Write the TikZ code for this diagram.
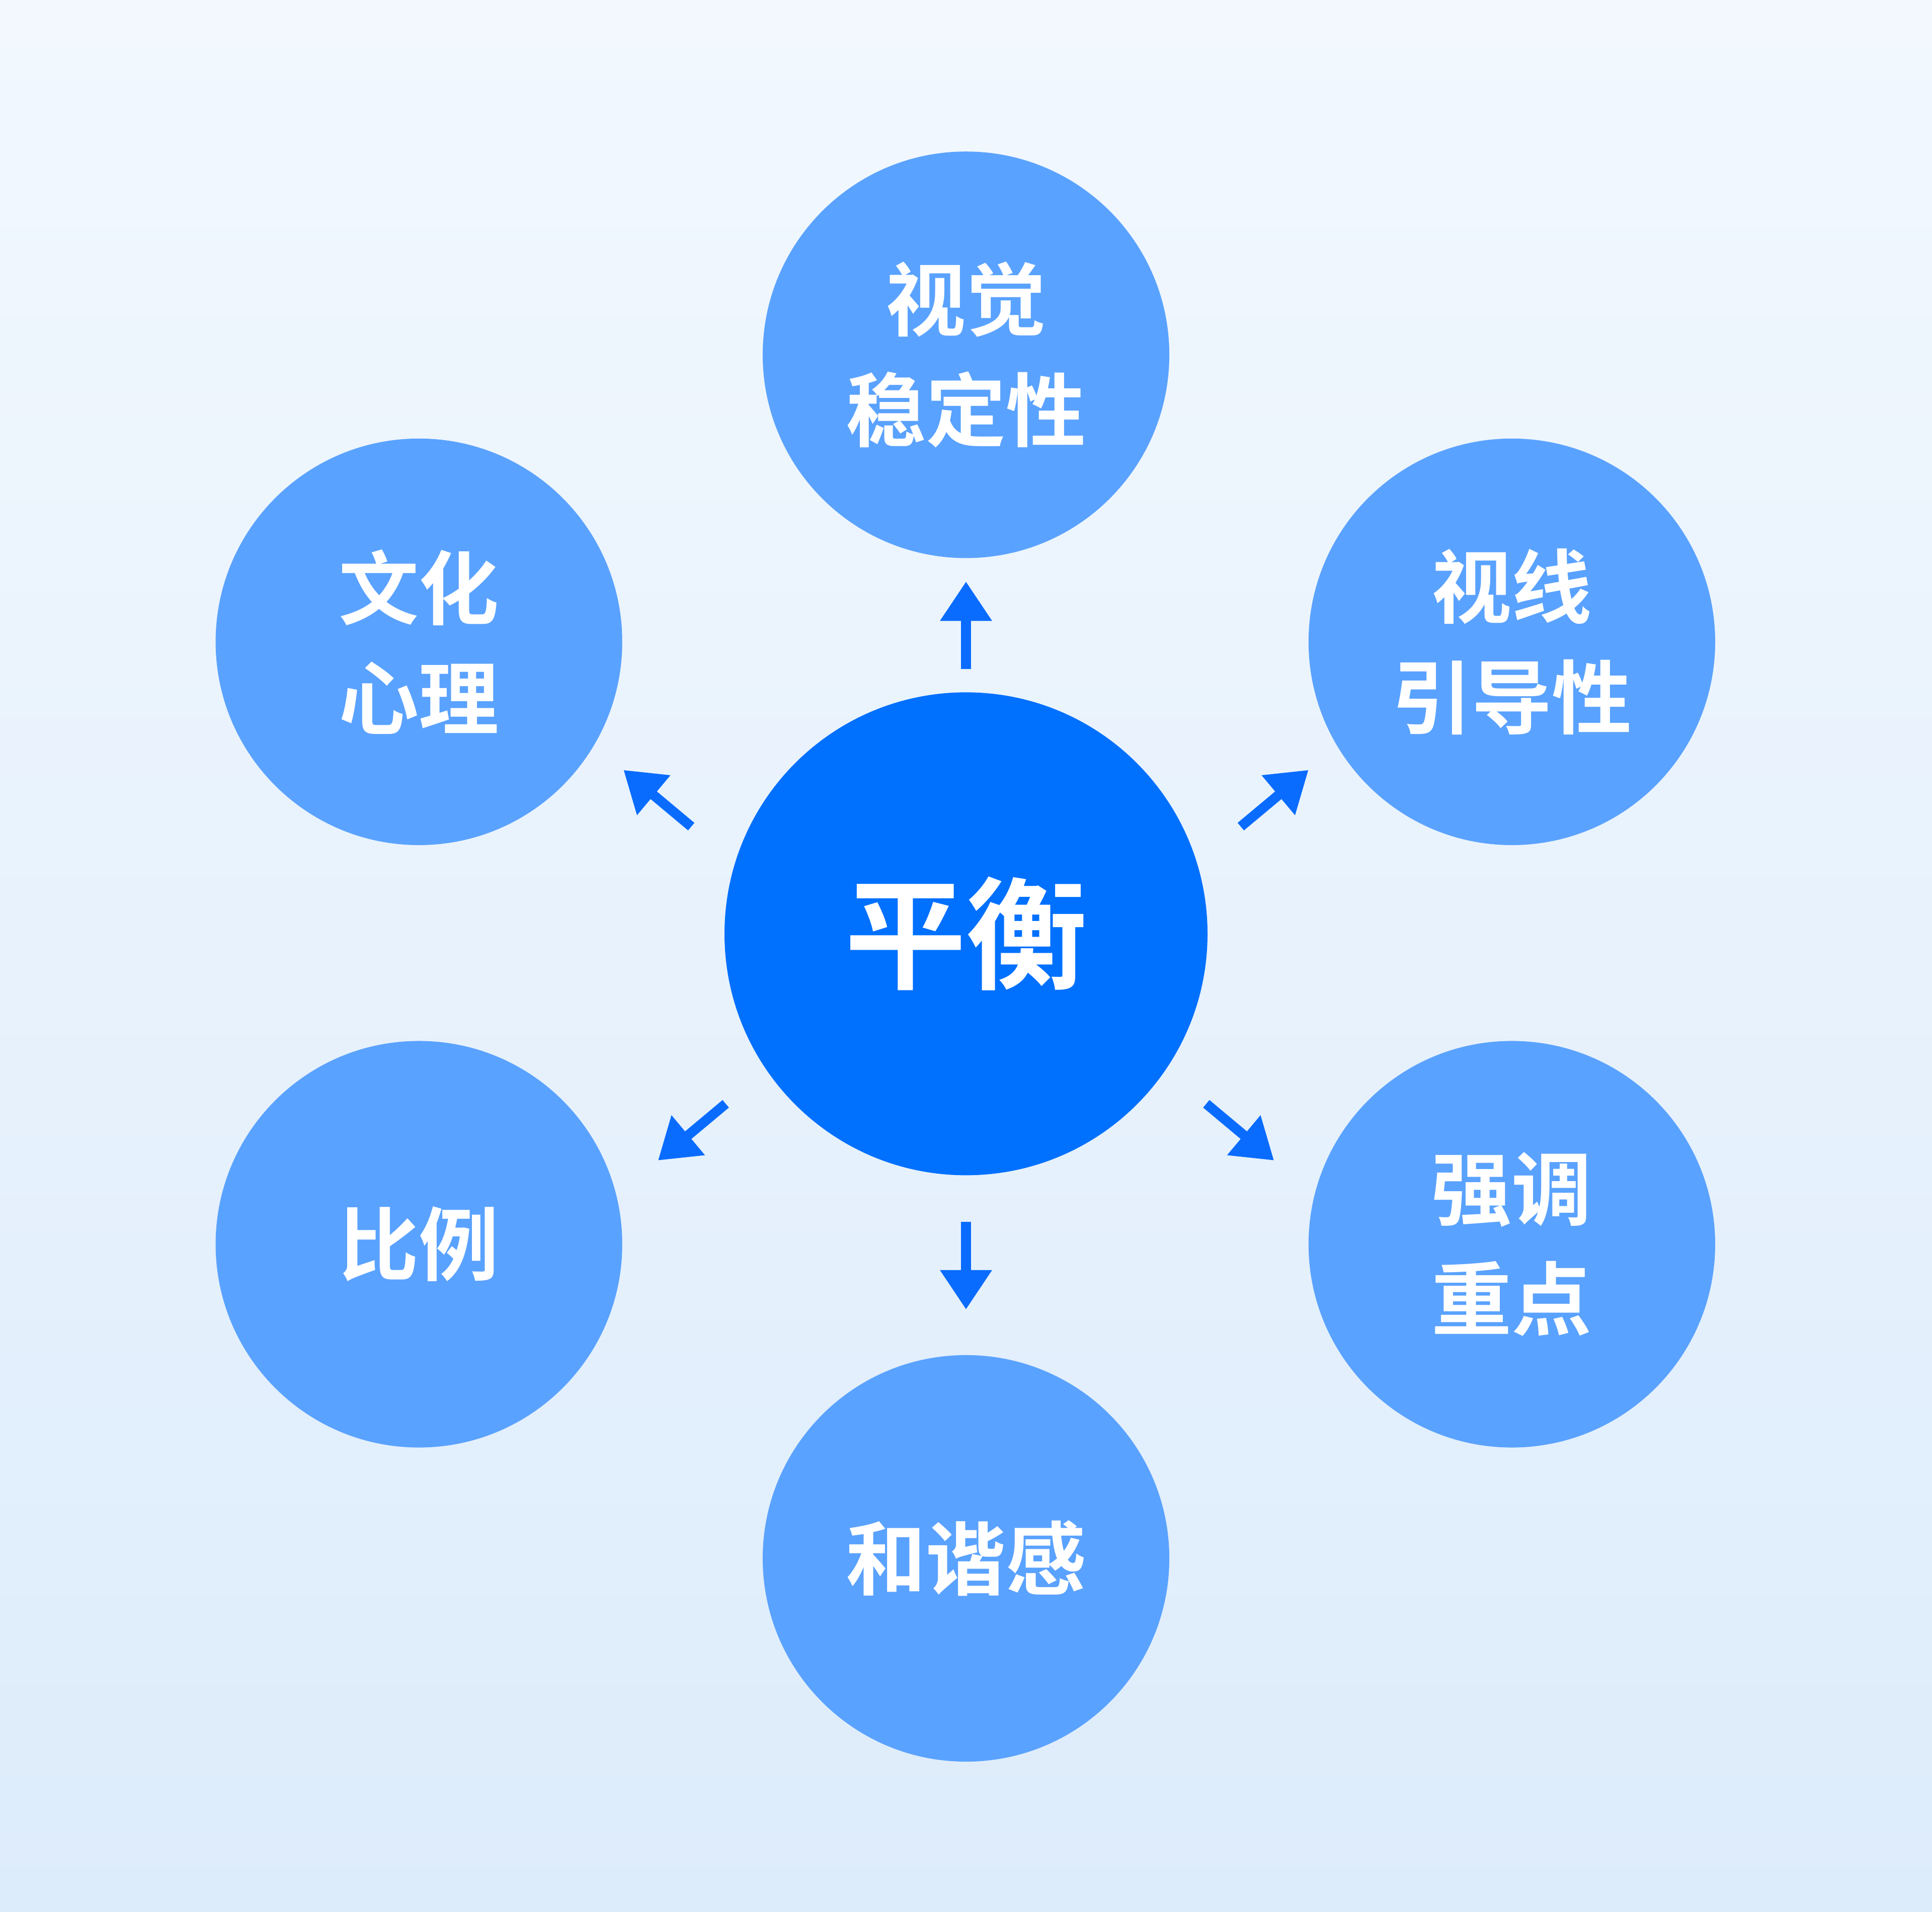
\documentclass[tikz,border=0pt]{standalone}
\usepackage{fontspec}
\newfontfamily\cjk{Noto Sans CJK SC}[BoldFont={Noto Sans CJK SC Bold}]
\usetikzlibrary{arrows.meta}
\definecolor{bgA}{HTML}{F2F8FE}
\definecolor{bgB}{HTML}{DDECFB}
\definecolor{main}{HTML}{0070FF}
\definecolor{sub}{HTML}{5AA2FF}
\definecolor{arr}{HTML}{0A6CFF}
\begin{document}
\begin{tikzpicture}[x=0.02cm,y=-0.02cm,
  subc/.style={circle,fill=sub,minimum size=330*0.02cm,inner sep=0pt,text=white,
    font=\cjk\bfseries\fontsize{37pt}{51pt}\selectfont,align=center},
  mainc/.style={circle,fill=main,minimum size=392*0.02cm,inner sep=0pt,text=white,
    font=\cjk\bfseries\fontsize{56pt}{60pt}\selectfont},
  arw/.style={draw=arr,line width=8*0.02cm,-{Triangle[length=32*0.02cm,width=40*0.02cm]}}]
\shade[top color=bgA,bottom color=bgB] (0,0) rectangle (1568,1552);
\useasboundingbox (0,0) rectangle (1568,1552);
\node[mainc] (c) at (784,758) {平衡};
\node[subc] (t) at (784,288) {视觉\\稳定性};
\node[subc] (ul) at (340,521) {文化\\心理};
\node[subc] (ur) at (1227,521) {视线\\引导性};
\node[subc] (ll) at (340,1010) {比例};
\node[subc] (lr) at (1227,1010) {强调\\重点};
\node[subc] (b) at (784,1265) {和谐感};
\coordinate (a1s) at (784,543); \coordinate (a1e) at (784,472);
\coordinate (a2s) at (561,671); \coordinate (a2e) at (506,625);
\coordinate (a3s) at (1007,671); \coordinate (a3e) at (1062,625);
\coordinate (a4s) at (589,896); \coordinate (a4e) at (534,942);
\coordinate (a5s) at (979,896); \coordinate (a5e) at (1034,942);
\coordinate (a6s) at (784,992); \coordinate (a6e) at (784,1063);
\foreach \i in {1,...,6} \draw[arw] (a\i s) -- (a\i e);
\end{tikzpicture}
\end{document}
